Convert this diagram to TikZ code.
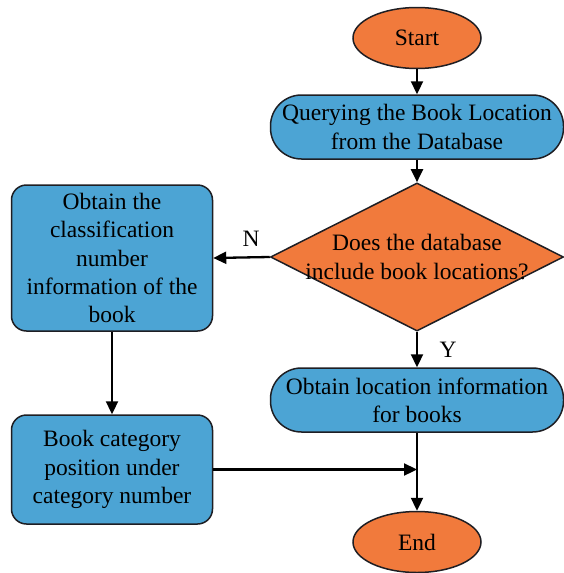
\documentclass[tikz,border=0pt]{standalone}
\usepackage{fontspec}
\setmainfont{Liberation Serif}
\usepackage{tikz}
\usetikzlibrary{arrows.meta, positioning, shapes.geometric}
\definecolor{termfill}{RGB}{241,122,60}
\definecolor{procfill}{RGB}{76,164,212}
\definecolor{edgeline}{RGB}{30,30,35}

\begin{document}
\begin{tikzpicture}[
  x=1pt, y=-1pt,
  terminal/.style={ellipse, fill=termfill, draw=edgeline, line width=1.5pt,
                   inner sep=0pt, minimum width=128pt, minimum height=61pt},
  process/.style={rectangle, fill=procfill, draw=edgeline, line width=1.5pt,
                  rounded corners=31pt, align=center, inner sep=0pt,
                  minimum width=293pt, minimum height=64pt},
  sidebox/.style={rectangle, fill=procfill, draw=edgeline, line width=1.5pt,
                  rounded corners=15pt, align=center, inner sep=0pt,
                  minimum width=201pt},
  decision/.style={diamond, fill=termfill, draw=edgeline, line width=1.5pt,
                   align=center, inner xsep=-60pt, inner ysep=0pt,
                   minimum width=293pt, minimum height=144pt},
  flow/.style={-{Triangle[length=13pt, width=12pt]}, line width=2.3pt, draw=black},
  font=\fontsize{23.5}{28.3}\selectfont,
]
\useasboundingbox (0,0) rectangle (564,573);

% =================================================================
% MAIN COLUMN
% =================================================================
\node[terminal] (start) at (417, 38) {Start};
\node[process] (query) at (417, 127)
  {Querying the Book Location\\from the Database};
\node[decision] (check) at (417, 257)
  {Does the database\\include book locations?};
\node[process] (locinfo) at (417, 400)
  {Obtain location information\\for books};
\node[terminal] (stop) at (417, 542) {End};

% =================================================================
% LEFT COLUMN
% =================================================================
\node[sidebox, minimum height=146pt] (classno) at (112, 258)
  {Obtain the\\classification\\number\\information of the\\book};
\node[sidebox, minimum height=109pt] (catpos) at (112, 469.5)
  {Book category\\position under\\category number};

\coordinate (join) at (417, 469.5);

% Arrows
\draw[flow] (start) -- (query);
\draw[flow] (query) -- (check);
\draw[flow] (check.west) -- (classno.east);
\draw[flow] (check.south) -- (locinfo.north);
\draw[flow] (classno) -- (catpos);
\draw[flow] (locinfo.south) -- (stop.north);
\draw[flow] (catpos.east) -- (join);

% Branch labels
\node (nolabel) at (251, 239) {N};
\node (yeslabel) at (448, 350) {Y};

\end{tikzpicture}
\end{document}
